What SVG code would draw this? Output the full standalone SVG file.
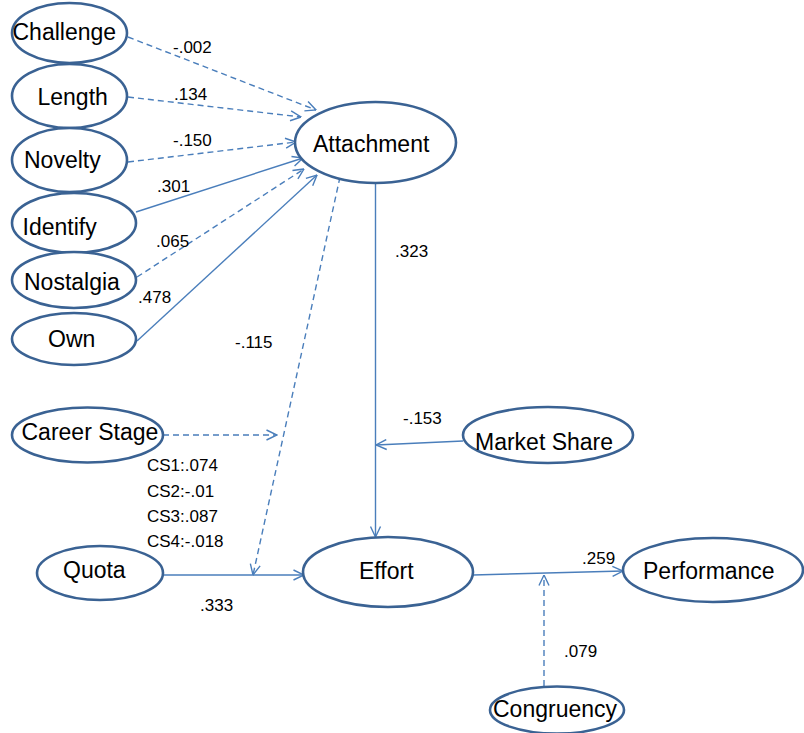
<svg xmlns="http://www.w3.org/2000/svg" width="804" height="733" viewBox="0 0 804 733">
  <style>
    .node ellipse { fill: #ffffff; stroke: #3a6293; stroke-width: 2.6; }
    .node text { font-family: "Liberation Sans", Arial, sans-serif; font-size: 23px; fill: #000000; }
    .edge { fill: none; stroke: #4a7ebb; stroke-width: 1.4; marker-end: url(#arrow); }
    .dash { stroke-dasharray: 6 4; }
    .plain { marker-end: none; }
    .lbl { font-family: "Liberation Sans", Arial, sans-serif; font-size: 17px; fill: #000000; }
  </style>
  <defs>
    <marker id="arrow" viewBox="0 0 12 12" refX="11.5" refY="6" markerWidth="12" markerHeight="12" markerUnits="userSpaceOnUse" orient="auto">
      <path d="M1,1 L11.5,6 L1,11" fill="none" stroke="#4a7ebb" stroke-width="1.4"/>
    </marker>
  </defs>
  <rect width="804" height="733" fill="#ffffff"/>

  <!-- connectors -->
  <g id="connectors">
    <line class="edge dash" x1="128" y1="37" x2="316" y2="110"/>
    <line class="edge dash" x1="128" y1="97" x2="301" y2="117"/>
    <line class="edge dash" x1="128" y1="162" x2="296" y2="142"/>
    <line class="edge" x1="136" y1="212" x2="303" y2="158"/>
    <line class="edge dash" x1="137" y1="277" x2="304" y2="169"/>
    <line class="edge" x1="137" y1="341" x2="317" y2="175"/>
    <line class="edge" x1="375.5" y1="183" x2="375.5" y2="537"/>
    <line class="edge" x1="463" y1="441" x2="376" y2="445"/>
    <line class="edge dash" x1="340" y1="177" x2="253" y2="575"/>
    <line class="edge dash" x1="163" y1="435" x2="277" y2="435"/>
    <line class="edge" x1="163" y1="575" x2="304" y2="575"/>
    <line class="edge" x1="473" y1="575" x2="623" y2="571"/>
    <line class="edge dash" x1="544" y1="686" x2="544" y2="575"/>
  </g>

  <!-- path coefficients -->
  <g id="labels">
    <text class="lbl" x="173" y="53">-.002</text>
    <text class="lbl" x="174" y="100">.134</text>
    <text class="lbl" x="173" y="146">-.150</text>
    <text class="lbl" x="157" y="192">.301</text>
    <text class="lbl" x="156" y="247">.065</text>
    <text class="lbl" x="138" y="303">.478</text>
    <text class="lbl" x="235" y="348">-.115</text>
    <text class="lbl" x="395" y="257">.323</text>
    <text class="lbl" x="403" y="424">-.153</text>
    <text class="lbl" x="147" y="471">CS1:.074</text>
    <text class="lbl" x="147" y="497">CS2:-.01</text>
    <text class="lbl" x="147" y="522">CS3:.087</text>
    <text class="lbl" x="147" y="547">CS4:-.018</text>
    <text class="lbl" x="200" y="611">.333</text>
    <text class="lbl" x="582" y="564">.259</text>
    <text class="lbl" x="564" y="657">.079</text>
  </g>

  <!-- nodes -->
  <g id="challenge" class="node">
    <ellipse cx="69.5" cy="33" rx="57.5" ry="30"/>
    <text x="12.5" y="40">Challenge</text>
  </g>
  <g id="length" class="node">
    <ellipse cx="69.5" cy="96" rx="57.5" ry="32"/>
    <text x="37.5" y="105">Length</text>
  </g>
  <g id="novelty" class="node">
    <ellipse cx="69.5" cy="160" rx="57.5" ry="32"/>
    <text x="24" y="168">Novelty</text>
  </g>
  <g id="identify" class="node">
    <ellipse cx="74" cy="223" rx="62" ry="30"/>
    <text x="22.5" y="235">Identify</text>
  </g>
  <g id="nostalgia" class="node">
    <ellipse cx="74" cy="280" rx="62" ry="28"/>
    <text x="24" y="290">Nostalgia</text>
  </g>
  <g id="own" class="node">
    <ellipse cx="74" cy="339" rx="62" ry="26"/>
    <text x="48" y="347">Own</text>
  </g>
  <g id="attachment" class="node">
    <ellipse cx="375.5" cy="142.5" rx="80.5" ry="40.5"/>
    <text x="313" y="152">Attachment</text>
  </g>
  <g id="career-stage" class="node">
    <ellipse cx="87.5" cy="435" rx="75.5" ry="27.5"/>
    <text x="21.5" y="440">Career Stage</text>
  </g>
  <g id="market-share" class="node">
    <ellipse cx="548" cy="435" rx="85" ry="28"/>
    <text x="475" y="450">Market Share</text>
  </g>
  <g id="quota" class="node">
    <ellipse cx="100" cy="573" rx="63" ry="27"/>
    <text x="63" y="578">Quota</text>
  </g>
  <g id="effort" class="node">
    <ellipse cx="388" cy="572" rx="85" ry="35"/>
    <text x="359" y="579">Effort</text>
  </g>
  <g id="performance" class="node">
    <ellipse cx="713" cy="570" rx="90" ry="32"/>
    <text x="643" y="579">Performance</text>
  </g>
  <g id="congruency" class="node">
    <ellipse cx="557" cy="710" rx="67" ry="23.5"/>
    <text x="493" y="717">Congruency</text>
  </g>
</svg>
